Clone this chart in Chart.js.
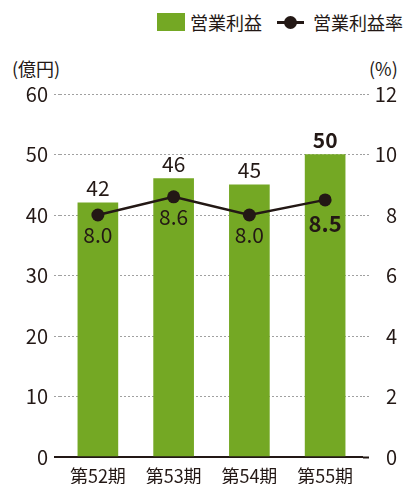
<!DOCTYPE html>
<html>
<head>
<meta charset="utf-8">
<script src="https://cdn.jsdelivr.net/npm/chart.js@4/dist/chart.umd.min.js"></script>
<style>
  body { margin: 0; background: #fff; }
  #wrap { position: relative; width: 407px; height: 484px; font-family: "Noto Sans CJK JP", sans-serif; color: #231815; }
  #profitChart { position: absolute; left: 0; top: 0; }
  .legend { position: absolute; top: 10px; left: 0; width: 407px; height: 24px; font-size: 18px; line-height: 24px; }
  .legend span { position: absolute; top: 0; white-space: nowrap; }
  .box { position: absolute; left: 157px; top: 3px; width: 28px; height: 18px; background: #74a824; }
  .line { position: absolute; left: 277px; top: 11px; width: 27px; height: 2.5px; background: #231815; }
  .dot { position: absolute; left: 284px; top: 6px; width: 13px; height: 13px; border-radius: 50%; background: #231815; }
  .unit { position: absolute; top: 56px; font-size: 18px; line-height: 24px; white-space: nowrap; }
</style>
</head>
<body>
<div id="wrap">
  <div class="legend">
    <div class="box"></div><span style="left:190px">営業利益</span>
    <div class="line"></div><div class="dot"></div><span style="left:313px">営業利益率</span>
  </div>
  <div class="unit" style="left:12px">(億円)</div>
  <div class="unit" style="left:369px">(%)</div>
  <canvas id="profitChart" width="407" height="484"></canvas>
</div>
<script>
const periods = ['第52期', '第53期', '第54期', '第55期'];
const operatingProfit = [42, 46, 45, 50];
const profitMargin = [8.0, 8.6, 8.0, 8.5];
const profitTicks = [0, 10, 20, 30, 40, 50, 60];
const marginTicks = [0, 2, 4, 6, 8, 10, 12];
const highlightIndex = 3;

const ink = '#231815';
const green = '#74a824';
const dashGray = '#a0a0a0';
const font = '"Noto Sans CJK JP", sans-serif';

const isZero = ctx => ctx.tick && ctx.tick.value === 0;

// value labels on bars and points
const valueLabels = {
    id: 'valueLabels',
    afterDatasetsDraw(chart) {
        const ctx = chart.ctx;
        ctx.save();
        ctx.fillStyle = ink;
        ctx.textAlign = 'center';
        ctx.textBaseline = 'alphabetic';
        chart.getDatasetMeta(1).data.forEach((bar, i) => {
            ctx.font = (i === highlightIndex ? 'bold ' : '') + '21px ' + font;
            ctx.fillText(String(operatingProfit[i]), bar.x, bar.y - 7);
        });
        chart.getDatasetMeta(0).data.forEach((pt, i) => {
            const bold = i === highlightIndex;
            ctx.font = (bold ? 'bold 22px ' : '21px ') + font;
            ctx.fillText(profitMargin[i].toFixed(1), pt.x, pt.y + (bold ? 32 : 28));
        });
        ctx.restore();
    }
};

new Chart(document.getElementById('profitChart'), {
    data: {
        labels: periods,
        datasets: [{
            type: 'line',
            label: '営業利益率',
            data: profitMargin,
            yAxisID: 'yMargin',
            borderColor: ink,
            borderWidth: 2.5,
            pointRadius: 6.5,
            pointBackgroundColor: ink,
            pointBorderWidth: 0,
            order: 0
        }, {
            type: 'bar',
            label: '営業利益',
            data: operatingProfit,
            yAxisID: 'yProfit',
            backgroundColor: green,
            barThickness: 40,
            order: 1
        }]
    },
    options: {
        responsive: false,
        animation: false,
        layout: { padding: { top: 94, right: 10, left: 0, bottom: 0 } },
        plugins: { legend: { display: false }, tooltip: { enabled: false } },
        scales: {
            x: {
                grid: { display: false },
                border: { display: false },
                ticks: { color: ink, font: { family: font, size: 18 }, padding: 0 },
                afterFit: s => { s.height = 27; }
            },
            yProfit: {
                position: 'left',
                min: 0, max: 60,
                afterBuildTicks: axis => { axis.ticks = profitTicks.map(v => ({ value: v })); },
                afterFit: s => { s.width = 60; },
                ticks: { color: ink, font: { family: font, size: 20 }, padding: 6 },
                grid: {
                    color: ctx => isZero(ctx) ? ink : dashGray,
                    lineWidth: ctx => isZero(ctx) ? 2 : 1,
                    tickLength: 6,
                    tickColor: ctx => isZero(ctx) ? ink : dashGray,
                    tickWidth: ctx => isZero(ctx) ? 2 : 1,
                    tickBorderDash: ctx => isZero(ctx) ? [] : [2, 2]
                },
                border: { display: false, dash: ctx => isZero(ctx) ? [] : [2, 2] }
            },
            yMargin: {
                position: 'right',
                min: 0, max: 12,
                afterBuildTicks: axis => { axis.ticks = marginTicks.map(v => ({ value: v })); },
                afterFit: s => { s.width = 34; },
                ticks: { color: ink, font: { family: font, size: 20 }, padding: 6, crossAlign: 'far' },
                grid: {
                    drawOnChartArea: false,
                    tickLength: 6,
                    tickColor: ctx => isZero(ctx) ? ink : dashGray,
                    tickWidth: ctx => isZero(ctx) ? 2 : 1,
                    tickBorderDash: ctx => isZero(ctx) ? [] : [2, 2]
                },
                border: { display: false }
            }
        }
    },
    plugins: [valueLabels]
});
</script>
</body>
</html>
